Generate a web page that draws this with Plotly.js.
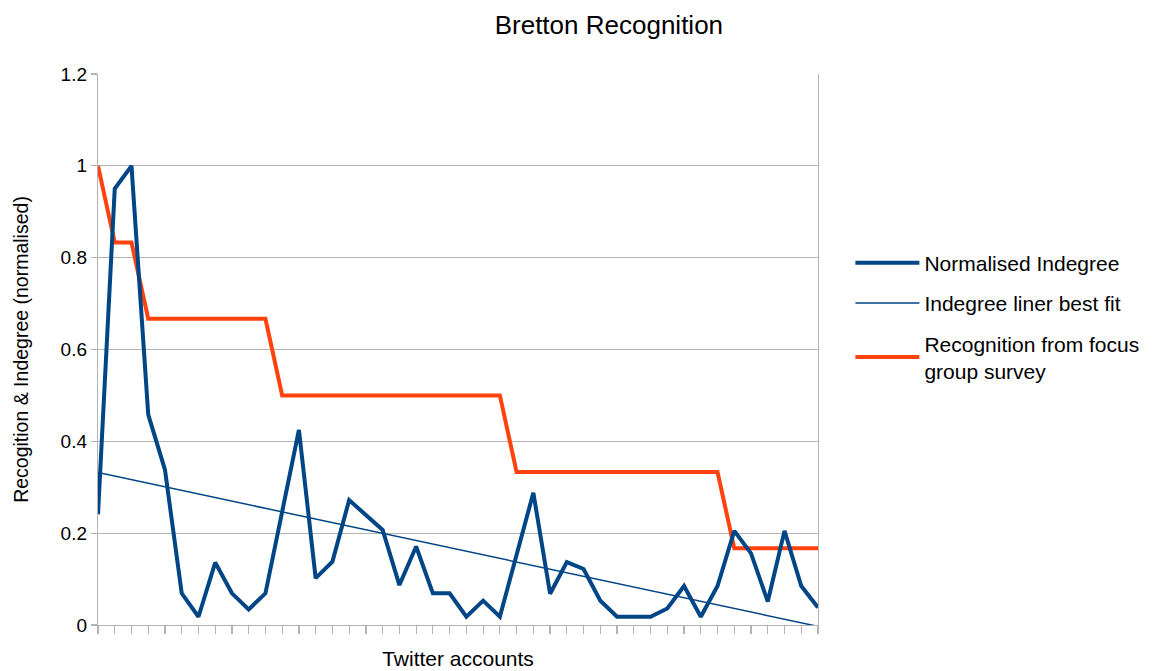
<!DOCTYPE html>
<html>
<head>
<meta charset="utf-8">
<script src="https://cdn.plot.ly/plotly-3.0.1.min.js"></script>
<style>html,body{margin:0;padding:0;background:#fff;}#chart{width:1162px;height:671px;}</style>
</head>
<body>
<div id="chart"></div>
<script>
// 44 Twitter accounts (index positions)
const accounts = Array.from({length: 44}, (_, i) => i);

const normalisedIndegree = [
  0.241, 0.950, 1.000, 0.458, 0.338, 0.069, 0.018, 0.136, 0.069, 0.034,
  0.069, 0.250, 0.425, 0.102, 0.138, 0.272, 0.240, 0.207, 0.087, 0.171,
  0.069, 0.069, 0.018, 0.053, 0.018, 0.153, 0.288, 0.068, 0.137, 0.122,
  0.053, 0.018, 0.018, 0.018, 0.036, 0.085, 0.018, 0.085, 0.205, 0.156,
  0.051, 0.205, 0.085, 0.038
];

const recognition = [
  1.000, 0.833, 0.833, 0.667, 0.667, 0.667, 0.667, 0.667, 0.667, 0.667,
  0.667, 0.500, 0.500, 0.500, 0.500, 0.500, 0.500, 0.500, 0.500, 0.500,
  0.500, 0.500, 0.500, 0.500, 0.500, 0.333, 0.333, 0.333, 0.333, 0.333,
  0.333, 0.333, 0.333, 0.333, 0.333, 0.333, 0.333, 0.333, 0.167, 0.167,
  0.167, 0.167, 0.167, 0.167
];

// Linear best fit endpoints (first and last account)
const fitX = [0, 43];
const fitY = [0.332, -0.003];

const yTickVals = [0, 0.2, 0.4, 0.6, 0.8, 1, 1.2];
const yTickText = ["0", "0.2", "0.4", "0.6", "0.8", "1", "1.2"];

const BLUE = "#004586";
const ORANGE = "#ff420e";
const GRID = "#b3b3b3";
const FONT = "Liberation Sans, Arial, sans-serif";

const tIndegree = {
  x: accounts, y: normalisedIndegree, type: "scatter", mode: "lines",
  name: "Normalised Indegree",
  line: {color: BLUE, width: 4}, legendgroup: "a", legendrank: 1
};
const tFit = {
  x: fitX, y: fitY, type: "scatter", mode: "lines",
  name: "Indegree liner best fit",
  line: {color: BLUE, width: 1.5}, legendgroup: "b", legendrank: 2
};
const tRecog = {
  x: accounts, y: recognition, type: "scatter", mode: "lines",
  name: "Recognition from focus<br>group survey",
  line: {color: ORANGE, width: 4}, legendgroup: "c", legendrank: 3
};

const layout = {
  width: 1162, height: 671,
  margin: {l: 98, r: 344, t: 74, b: 46, pad: 0},
  paper_bgcolor: "#fff", plot_bgcolor: "#fff",
  font: {family: FONT, color: "#000", size: 16},
  title: {
    text: "Bretton Recognition",
    font: {family: FONT, size: 26, color: "#000"},
    xref: "container", yref: "container",
    x: 0.524, xanchor: "center", y: 0.963, yanchor: "middle"
  },
  xaxis: {
    range: [0, 43], dtick: 1, tick0: 0,
    showgrid: false, zeroline: false,
    showline: true, linecolor: GRID, linewidth: 1.2,
    ticks: "outside", ticklen: 8, tickcolor: GRID, tickwidth: 1.2,
    showticklabels: false,
    title: {text: "Twitter accounts", font: {family: FONT, size: 21, color: "#000"}, standoff: 18}
  },
  yaxis: {
    range: [0, 1.2], tickvals: yTickVals, ticktext: yTickText,
    showgrid: true, gridcolor: GRID, gridwidth: 1.2, zeroline: false,
    showline: true, linecolor: GRID, linewidth: 1.2, mirror: true,
    ticks: "outside", ticklen: 6, tickcolor: GRID, tickwidth: 1.2,
    tickfont: {family: FONT, size: 19, color: "#000"},
    title: {text: "Recogition & Indegree (normalised)", font: {family: FONT, size: 19.5, color: "#000"}, standoff: 26}
  },
  showlegend: true,
  legend: {
    x: 1.045, xanchor: "left", y: 0.694, yanchor: "top",
    traceorder: "grouped", tracegroupgap: 10,
    itemwidth: 64,
    font: {family: FONT, size: 21, color: "#000"},
    bgcolor: "rgba(0,0,0,0)", borderwidth: 0
  }
};

Plotly.newPlot("chart", [tRecog, tFit, tIndegree], layout, {displayModeBar: false, staticPlot: true});
</script>
</body>
</html>
